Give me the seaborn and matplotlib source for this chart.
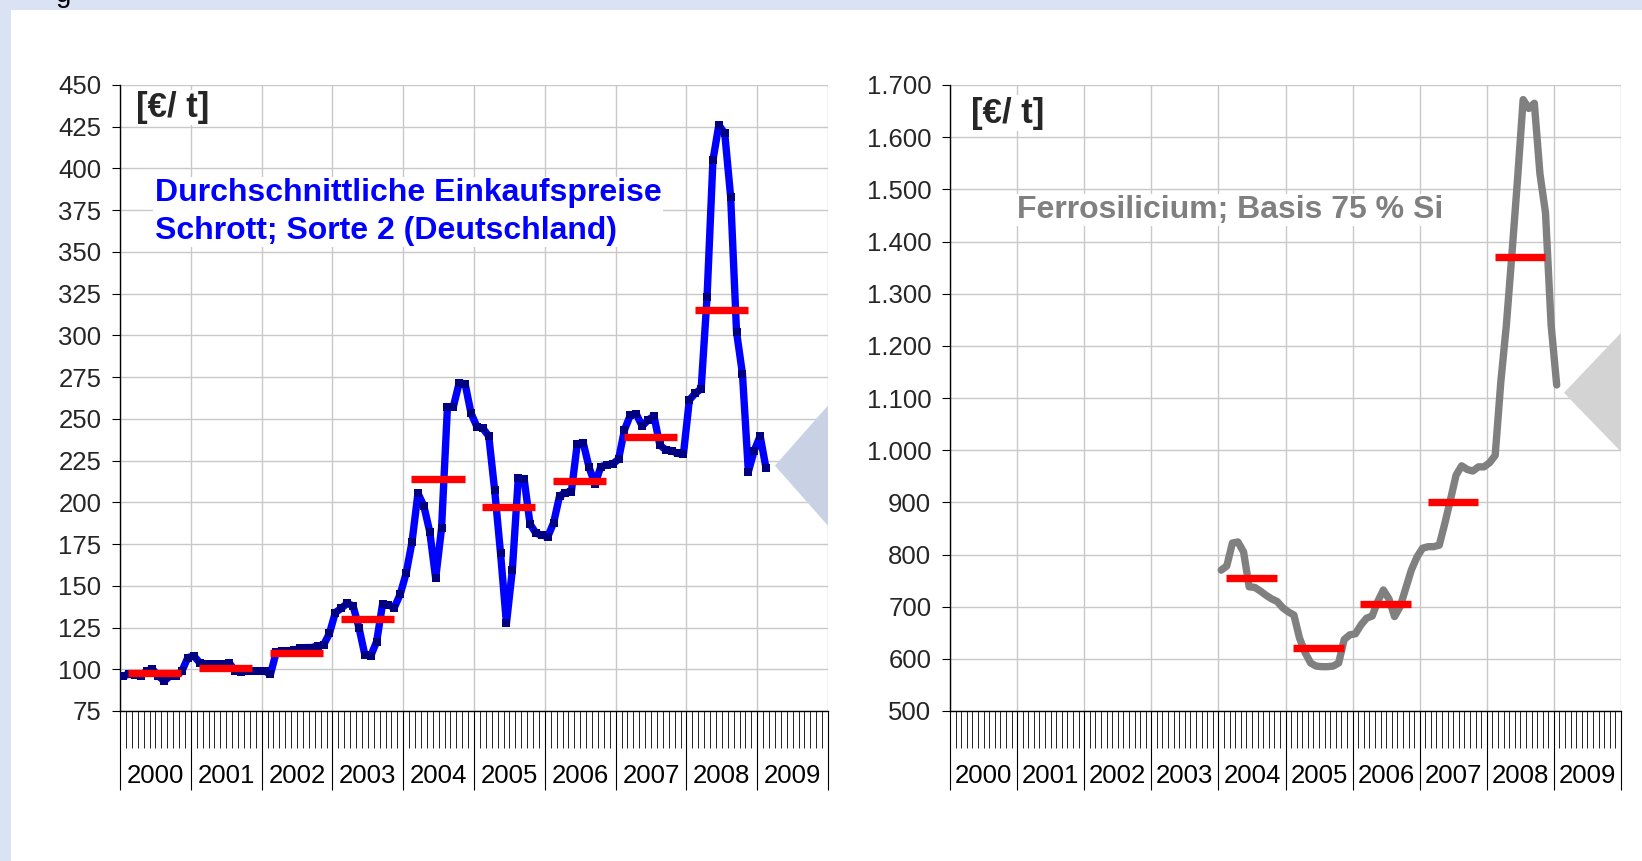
"""Scrap and ferrosilicon purchase prices 2000-2009, two side-by-side panels."""

import matplotlib
matplotlib.use("Agg")
import matplotlib.pyplot as plt
import matplotlib.ticker as mticker
import matplotlib.transforms as mtransforms
from matplotlib.patches import Rectangle
import numpy as np
import pandas as pd
import seaborn as sns

years = list(range(2000, 2010))

# Schrott Sorte 2 (Deutschland), monthly from Jan 2000, EUR/t
scrap_prices = [
    96, 97, 96.5, 96, 99, 100, 96, 93, 96, 96, 99, 107,
    108, 104, 103, 103, 103, 103, 104, 99, 98.5, 99, 99, 99,
    99, 97, 110.5, 111, 111, 111.5, 112.5, 113, 113, 114, 114.5, 121.5,
    134, 136.5, 139.5, 138, 125, 108.6, 108, 116.6, 139, 138.5, 137, 145,
    157.5, 176.4, 205.4, 197.8, 182.4, 154.5, 184.4, 257.3, 257.3, 271.7, 270.9, 253.3,
    245.3, 244.3, 239.7, 207.4, 169.4, 127.5, 159.5, 214.4, 213.8, 187, 181.4, 180.4,
    179.4, 187.8, 203.8, 205.8, 206.4, 235, 235.8, 221, 211, 221.4, 222.4, 223,
    225.8, 243.3, 252.3, 252.9, 245.7, 249.3, 251.7, 234.3, 231.4, 231, 229.3, 229,
    261.3, 265.3, 268, 323, 405, 426, 421, 383, 302, 277, 218.4, 231,
    239.7, 220.4,
]
scrap_avg_years = [2000, 2001, 2002, 2003, 2004, 2005, 2006, 2007, 2008]
scrap_avg = [98, 101, 110, 130, 214, 197, 212.5, 239, 315]
scrap_outlook_x = [111, 120, 120]
scrap_outlook_y = [222, 258, 186]

# Ferrosilicium, Basis 75 % Si, monthly from Jan 2004, EUR/t
fesi_first_month = 48
fesi_prices = [
    770, 778, 822, 824, 805, 738, 737, 730, 722, 715, 710, 698,
    690, 684, 640, 612, 592, 586, 585, 585, 586, 592, 637, 646,
    648, 665, 678, 682, 710, 732, 715, 681, 700, 735, 770, 795,
    812, 815, 815, 818, 860, 905, 952, 970, 963, 960, 968, 968,
    976, 990, 1130, 1240, 1377, 1520, 1672, 1655, 1665, 1530, 1455, 1240,
    1125,
]
fesi_avg_years = [2004, 2005, 2006, 2007, 2008]
fesi_avg = [755, 620, 705, 900, 1371]
fesi_outlook_x = [109.8, 120, 120]
fesi_outlook_y = [1110, 1225, 997]

W, H = 1642, 861
BG = "#dae3f3"
GRID = "#c8c8c8"

sns.set_theme(style="white")
plt.rcParams["font.family"] = ["Liberation Sans", "DejaVu Sans"]

fig = plt.figure(figsize=(W / 100, H / 100), dpi=100, facecolor="white")
# light blue frame strips at the top and left edge of the slide
fig.patches.append(Rectangle((0, 1 - 10 / H), 1, 10 / H, transform=fig.transFigure,
                             facecolor=BG, edgecolor="none", zorder=-10))
fig.patches.append(Rectangle((0, 0), 11 / W, 1, transform=fig.transFigure,
                             facecolor=BG, edgecolor="none", zorder=-10))
fig.text(56 / W, 1 - 2 / H, "g", fontsize=20, ha="left", va="baseline", color="black")


def axes_rect(x0, x1, y0=85, y1=711):
    return [x0 / W, (H - y1) / H, (x1 - x0) / W, (y1 - y0) / H]


def draw_panel(ax, prices, first_month, avg_years, avg, out_x, out_y,
               line_color, wedge_color, ylim, ystep, fmt, with_markers):
    df = pd.DataFrame({
        "month": np.arange(first_month, first_month + len(prices)) + 0.5,
        "price": prices,
    })
    ax.fill(out_x, out_y, color=wedge_color, linewidth=0, zorder=1)
    kw = dict(marker="s", markersize=5.8, markerfacecolor="#000080",
              markeredgewidth=0) if with_markers else {}
    sns.lineplot(data=df, x="month", y="price", ax=ax, color=line_color,
                 linewidth=5.3, zorder=3, **kw)
    starts = [(y - 2000) * 12 for y in avg_years]
    ax.hlines(avg, [s + 1.4 for s in starts], [s + 10.4 for s in starts],
              colors="#ff0000", linewidth=5.3, zorder=4, capstyle="butt")

    ax.set_xlim(0, 120)
    ax.set_ylim(*ylim)
    ax.set_xlabel("")
    ax.set_ylabel("")
    ax.set_yticks(np.arange(ylim[0], ylim[1] + 1, ystep))
    ax.yaxis.set_major_formatter(mticker.FuncFormatter(fmt))
    ax.xaxis.set_major_locator(mticker.MultipleLocator(12))
    ax.xaxis.set_minor_locator(mticker.MultipleLocator(1))
    ax.xaxis.set_major_formatter(mticker.NullFormatter())
    ax.grid(True, which="major", color=GRID, linewidth=1.0)
    ax.set_axisbelow(True)
    for side in ("top", "right"):
        ax.spines[side].set_visible(False)
    for side in ("left", "bottom"):
        ax.spines[side].set_color("black")
        ax.spines[side].set_linewidth(1.0)
    ax.tick_params(axis="y", direction="out", length=6, width=0.8, color="black",
                   pad=7.5, labelsize=18.5, left=True)
    ax.tick_params(axis="x", which="major", direction="out", length=57, width=0.8,
                   color="black", bottom=True)
    ax.tick_params(axis="x", which="minor", direction="out", length=26.5, width=0.6,
                   color="black", bottom=True)
    trans = mtransforms.blended_transform_factory(ax.transData, ax.transAxes)
    for i, yr in enumerate(years):
        ax.text(12 * i + 6, -0.104, str(yr), transform=trans, ha="center",
                va="center", fontsize=18.5, color="black")


box = dict(facecolor="white", edgecolor="none", pad=1)

ax1 = fig.add_axes(axes_rect(120, 828))
draw_panel(ax1, scrap_prices, 0, scrap_avg_years, scrap_avg,
           scrap_outlook_x, scrap_outlook_y, "#0000ff", "#c8d2e4", (75, 450), 25,
           lambda v, _: f"{v:.0f}", True)
ax1.text(0.022, 0.964, "[€/ t]", transform=ax1.transAxes, fontsize=25,
         fontweight="bold", va="center", ha="left", bbox=box, zorder=5)
ax1.text(0.049, 0.797, "Durchschnittliche Einkaufspreise\nSchrott; Sorte 2 (Deutschland)",
         transform=ax1.transAxes, fontsize=23, fontweight="bold", color="#0000ff",
         va="center", ha="left", linespacing=1.35, bbox=box, zorder=5)

ax2 = fig.add_axes(axes_rect(950, 1621))
draw_panel(ax2, fesi_prices, fesi_first_month, fesi_avg_years, fesi_avg,
           fesi_outlook_x, fesi_outlook_y, "#808080", "#d3d3d3", (500, 1700), 100,
           lambda v, _: f"{v:,.0f}".replace(",", "."), False)
ax2.text(0.032, 0.955, "[€/ t]", transform=ax2.transAxes, fontsize=25,
         fontweight="bold", va="center", ha="left", bbox=box, zorder=5)
ax2.text(0.10, 0.80, "Ferrosilicium; Basis 75 % Si", transform=ax2.transAxes,
         fontsize=23, fontweight="bold", color="#808080", va="center", ha="left",
         bbox=box, zorder=5)

fig.savefig("out.png", dpi=100, facecolor="white")
plt.close(fig)
